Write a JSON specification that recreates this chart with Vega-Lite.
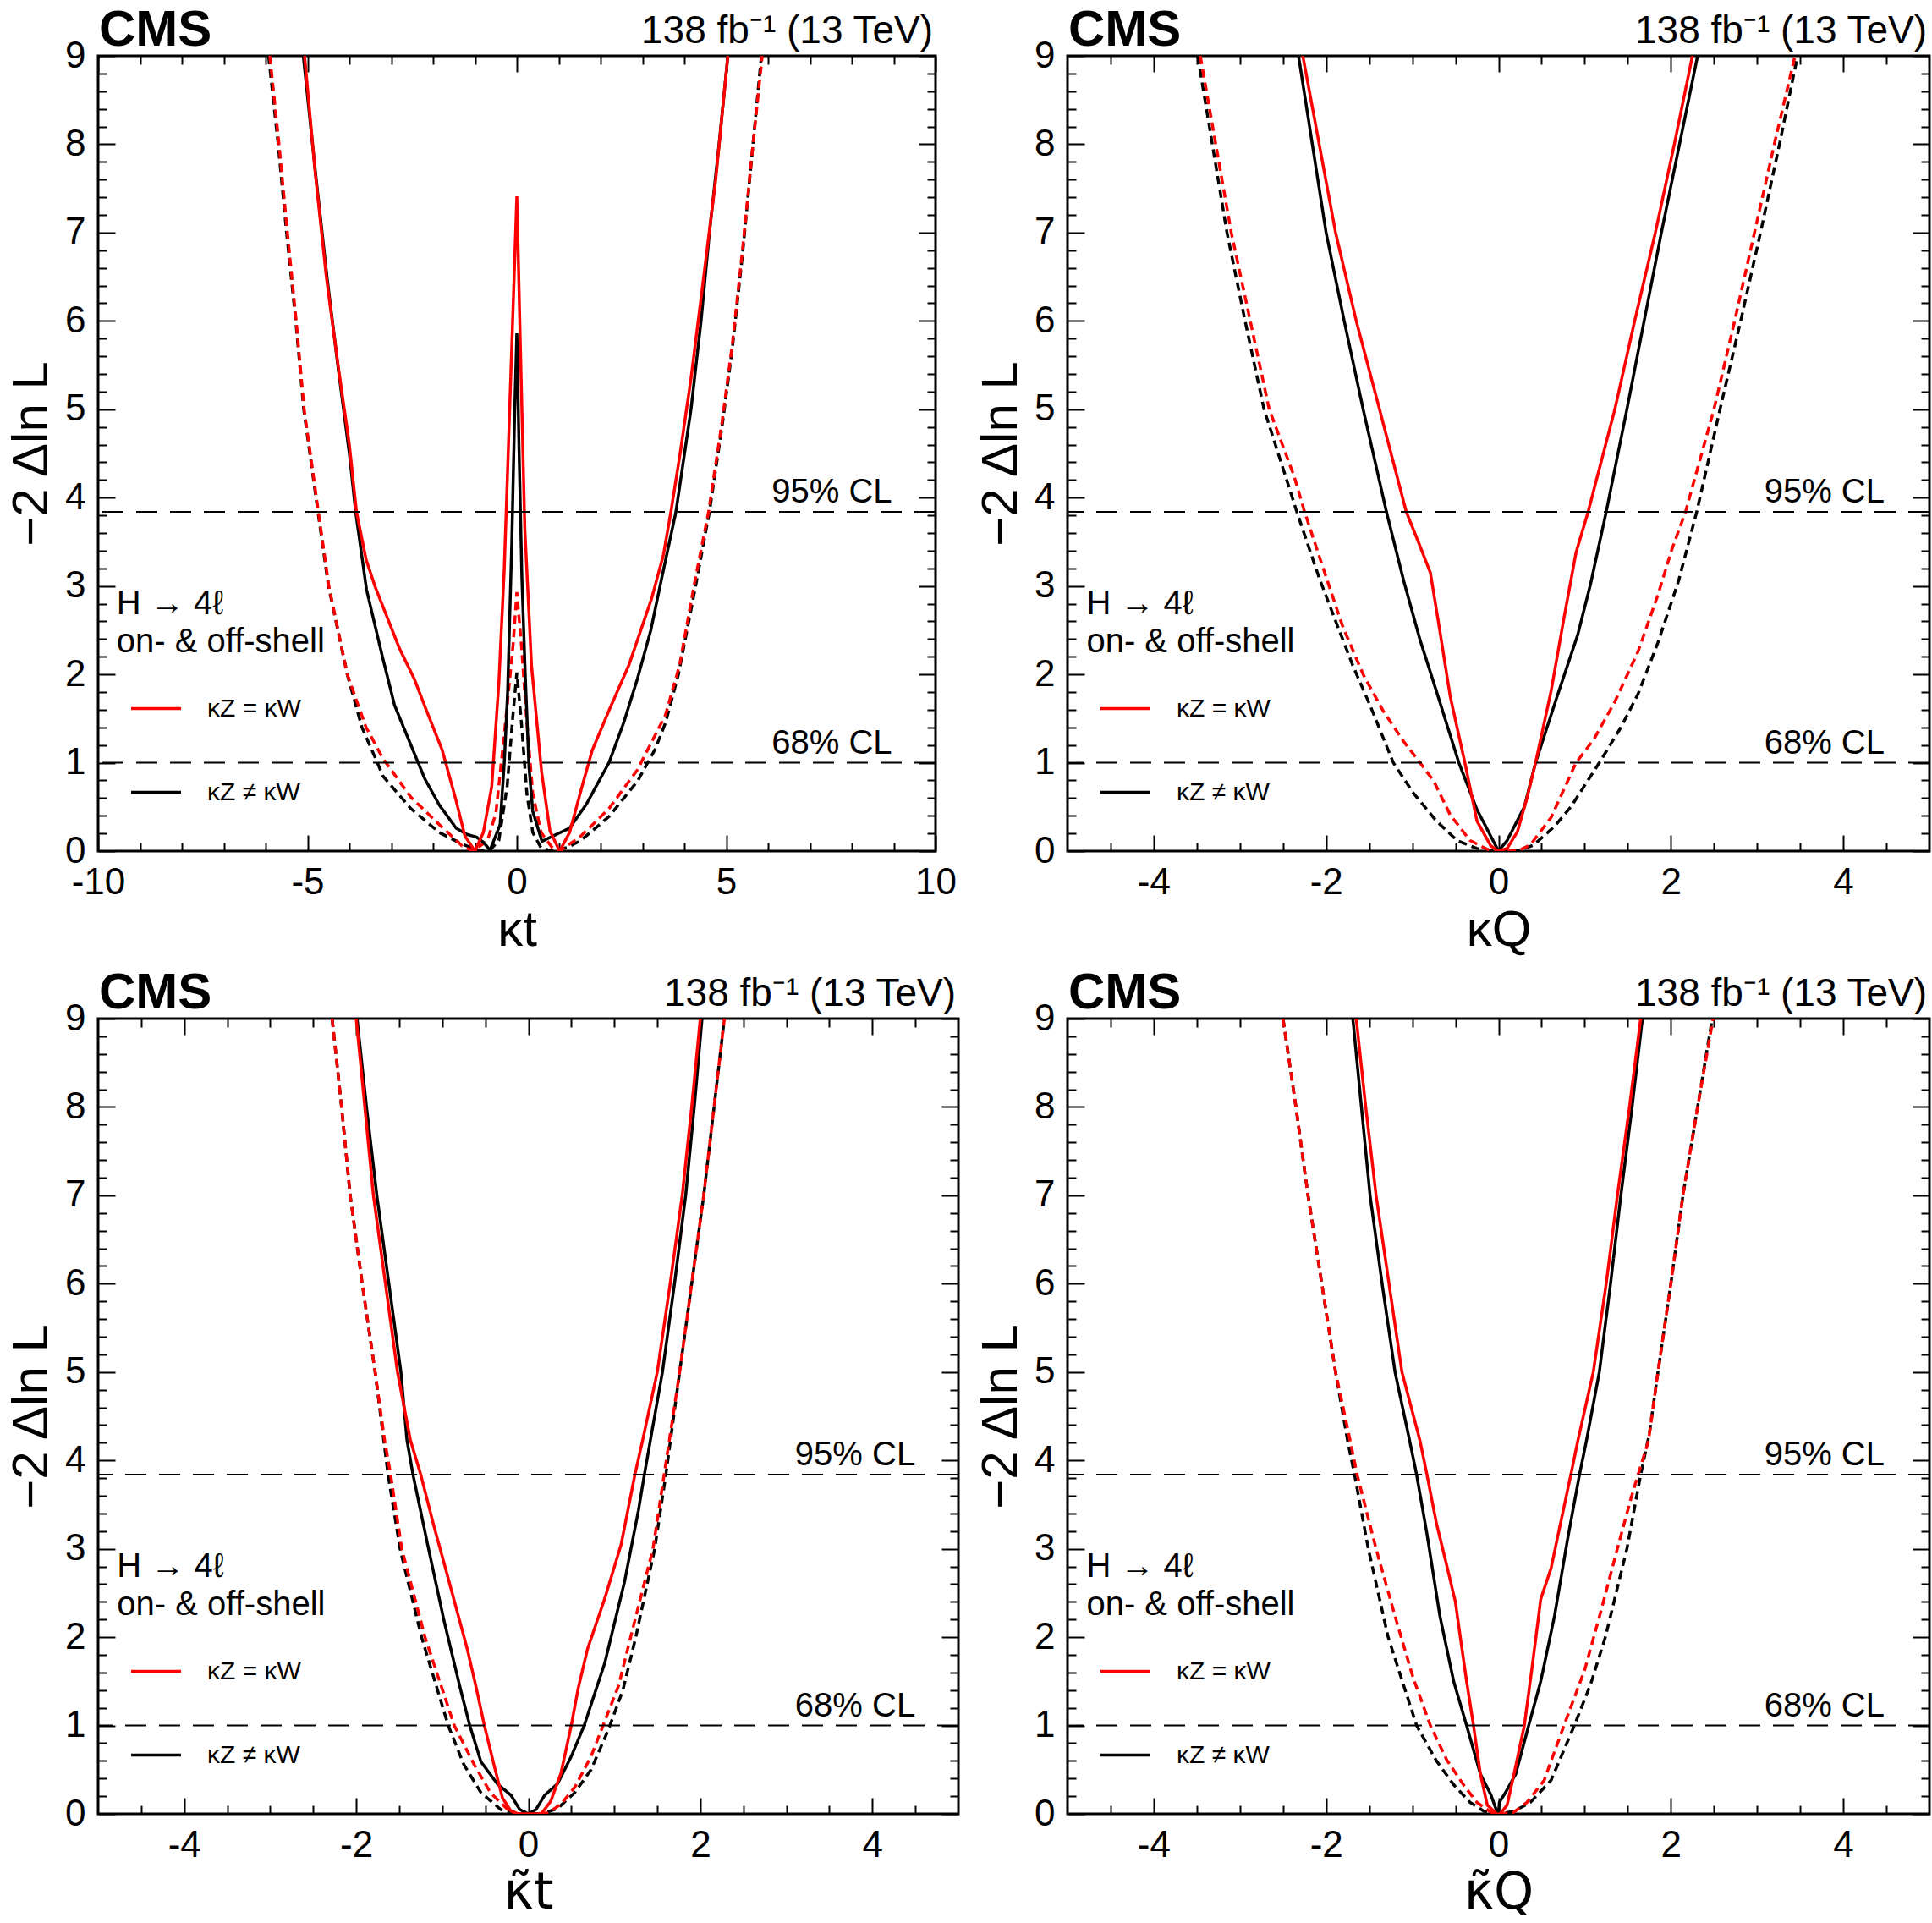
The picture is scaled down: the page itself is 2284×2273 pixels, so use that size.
{
  "$schema": "https://vega.github.io/schema/vega-lite/v6.json",
  "background": "white",
  "padding": {"left": 6, "top": 4, "right": 0, "bottom": 0},
  "config": {
    "font": "Liberation Sans",
    "view": {"stroke": "#000000", "strokeWidth": 3},
    "axis": {
      "grid": false, "domain": false, "tickColor": "#000000", "tickWidth": 2,
      "labelFont": "Liberation Sans", "labelFontSize": 44, "labelColor": "#000000",
      "labelFlush": false, "labelOverlap": false,
      "titleFont": "Liberation Sans", "titleFontSize": 60, "titleFontWeight": "normal", "titleColor": "#000000"
    },
    "axisLeft": {"titlePadding": 8},
    "axisBottom": {"titlePadding": 5},
    "legend": {
      "symbolType": "stroke", "symbolSize": 3481, "symbolStrokeWidth": 3.5,
      "labelFont": "Liberation Sans", "labelFontSize": 30, "labelColor": "#000000",
      "labelOffset": 29, "rowPadding": 52, "padding": 0
    },
    "text": {"font": "Liberation Sans", "color": "#000000"}
  },
  "datasets": {
    "kt": [
      {"model": "κZ ≠ κW", "curve": "expected", "x": -5.93, "y": 9}, {"model": "κZ ≠ κW", "curve": "expected", "x": -5.7, "y": 8}, {"model": "κZ ≠ κW", "curve": "expected", "x": -5.5, "y": 7}, {"model": "κZ ≠ κW", "curve": "expected", "x": -5.28, "y": 6}, {"model": "κZ ≠ κW", "curve": "expected", "x": -5.09, "y": 5}, {"model": "κZ ≠ κW", "curve": "expected", "x": -4.75, "y": 3.84}, {"model": "κZ ≠ κW", "curve": "expected", "x": -4.5, "y": 3.0}, {"model": "κZ ≠ κW", "curve": "expected", "x": -4.05, "y": 2.0}, {"model": "κZ ≠ κW", "curve": "expected", "x": -3.7, "y": 1.4}, {"model": "κZ ≠ κW", "curve": "expected", "x": -3.33, "y": 1.0}, {"model": "κZ ≠ κW", "curve": "expected", "x": -3.2, "y": 0.85}, {"model": "κZ ≠ κW", "curve": "expected", "x": -2.53, "y": 0.48}, {"model": "κZ ≠ κW", "curve": "expected", "x": -1.85, "y": 0.21}, {"model": "κZ ≠ κW", "curve": "expected", "x": -1.31, "y": 0.08}, {"model": "κZ ≠ κW", "curve": "expected", "x": -0.9, "y": 0}, {"model": "κZ ≠ κW", "curve": "expected", "x": -0.64, "y": 0.01}, {"model": "κZ ≠ κW", "curve": "expected", "x": -0.43, "y": 0.12}, {"model": "κZ ≠ κW", "curve": "expected", "x": -0.23, "y": 0.74}, {"model": "κZ ≠ κW", "curve": "expected", "x": -0.1, "y": 1.5}, {"model": "κZ ≠ κW", "curve": "expected", "x": 0, "y": 2.02}, {"model": "κZ ≠ κW", "curve": "expected", "x": 0.11, "y": 1.45}, {"model": "κZ ≠ κW", "curve": "expected", "x": 0.24, "y": 0.65}, {"model": "κZ ≠ κW", "curve": "expected", "x": 0.38, "y": 0.21}, {"model": "κZ ≠ κW", "curve": "expected", "x": 0.58, "y": 0.035}, {"model": "κZ ≠ κW", "curve": "expected", "x": 0.85, "y": 0}, {"model": "κZ ≠ κW", "curve": "expected", "x": 1.2, "y": 0.04}, {"model": "κZ ≠ κW", "curve": "expected", "x": 1.53, "y": 0.12}, {"model": "κZ ≠ κW", "curve": "expected", "x": 2.2, "y": 0.39}, {"model": "κZ ≠ κW", "curve": "expected", "x": 2.88, "y": 0.79}, {"model": "κZ ≠ κW", "curve": "expected", "x": 3.3, "y": 1.15}, {"model": "κZ ≠ κW", "curve": "expected", "x": 3.55, "y": 1.45}, {"model": "κZ ≠ κW", "curve": "expected", "x": 3.86, "y": 2.0}, {"model": "κZ ≠ κW", "curve": "expected", "x": 4.27, "y": 3.0}, {"model": "κZ ≠ κW", "curve": "expected", "x": 4.6, "y": 3.84}, {"model": "κZ ≠ κW", "curve": "expected", "x": 4.9, "y": 4.8}, {"model": "κZ ≠ κW", "curve": "expected", "x": 5.15, "y": 5.7}, {"model": "κZ ≠ κW", "curve": "expected", "x": 5.4, "y": 6.8}, {"model": "κZ ≠ κW", "curve": "expected", "x": 5.62, "y": 7.9}, {"model": "κZ ≠ κW", "curve": "expected", "x": 5.84, "y": 9},
      {"model": "κZ = κW", "curve": "expected", "x": -5.9, "y": 9}, {"model": "κZ = κW", "curve": "expected", "x": -5.68, "y": 8}, {"model": "κZ = κW", "curve": "expected", "x": -5.48, "y": 7}, {"model": "κZ = κW", "curve": "expected", "x": -5.27, "y": 6}, {"model": "κZ = κW", "curve": "expected", "x": -5.08, "y": 5}, {"model": "κZ = κW", "curve": "expected", "x": -4.74, "y": 3.84}, {"model": "κZ = κW", "curve": "expected", "x": -4.49, "y": 3.0}, {"model": "κZ = κW", "curve": "expected", "x": -4.05, "y": 2.0}, {"model": "κZ = κW", "curve": "expected", "x": -3.6, "y": 1.4}, {"model": "κZ = κW", "curve": "expected", "x": -3.2, "y": 1.05}, {"model": "κZ = κW", "curve": "expected", "x": -2.53, "y": 0.61}, {"model": "κZ = κW", "curve": "expected", "x": -1.85, "y": 0.3}, {"model": "κZ = κW", "curve": "expected", "x": -1.31, "y": 0.06}, {"model": "κZ = κW", "curve": "expected", "x": -1.04, "y": 0}, {"model": "κZ = κW", "curve": "expected", "x": -0.7, "y": 0.12}, {"model": "κZ = κW", "curve": "expected", "x": -0.5, "y": 0.43}, {"model": "κZ = κW", "curve": "expected", "x": -0.3, "y": 1.32}, {"model": "κZ = κW", "curve": "expected", "x": -0.09, "y": 2.33}, {"model": "κZ = κW", "curve": "expected", "x": 0, "y": 2.93}, {"model": "κZ = κW", "curve": "expected", "x": 0.11, "y": 2.33}, {"model": "κZ = κW", "curve": "expected", "x": 0.24, "y": 1.45}, {"model": "κZ = κW", "curve": "expected", "x": 0.38, "y": 0.65}, {"model": "κZ = κW", "curve": "expected", "x": 0.58, "y": 0.21}, {"model": "κZ = κW", "curve": "expected", "x": 0.85, "y": 0.035}, {"model": "κZ = κW", "curve": "expected", "x": 1.02, "y": 0}, {"model": "κZ = κW", "curve": "expected", "x": 1.53, "y": 0.17}, {"model": "κZ = κW", "curve": "expected", "x": 2.2, "y": 0.48}, {"model": "κZ = κW", "curve": "expected", "x": 2.88, "y": 0.92}, {"model": "κZ = κW", "curve": "expected", "x": 3.55, "y": 1.54}, {"model": "κZ = κW", "curve": "expected", "x": 3.89, "y": 2.11}, {"model": "κZ = κW", "curve": "expected", "x": 4.25, "y": 3.05}, {"model": "κZ = κW", "curve": "expected", "x": 4.58, "y": 3.84}, {"model": "κZ = κW", "curve": "expected", "x": 4.9, "y": 4.85}, {"model": "κZ = κW", "curve": "expected", "x": 5.15, "y": 5.75}, {"model": "κZ = κW", "curve": "expected", "x": 5.4, "y": 6.85}, {"model": "κZ = κW", "curve": "expected", "x": 5.63, "y": 7.95}, {"model": "κZ = κW", "curve": "expected", "x": 5.86, "y": 9},
      {"model": "κZ ≠ κW", "curve": "observed", "x": -5.1, "y": 9}, {"model": "κZ ≠ κW", "curve": "observed", "x": -4.8, "y": 7.64}, {"model": "κZ ≠ κW", "curve": "observed", "x": -4.53, "y": 6.48}, {"model": "κZ ≠ κW", "curve": "observed", "x": -4.26, "y": 5.44}, {"model": "κZ ≠ κW", "curve": "observed", "x": -3.99, "y": 4.46}, {"model": "κZ ≠ κW", "curve": "observed", "x": -3.85, "y": 3.84}, {"model": "κZ ≠ κW", "curve": "observed", "x": -3.59, "y": 2.96}, {"model": "κZ ≠ κW", "curve": "observed", "x": -3.22, "y": 2.22}, {"model": "κZ ≠ κW", "curve": "observed", "x": -2.92, "y": 1.65}, {"model": "κZ ≠ κW", "curve": "observed", "x": -2.53, "y": 1.2}, {"model": "κZ ≠ κW", "curve": "observed", "x": -2.2, "y": 0.82}, {"model": "κZ ≠ κW", "curve": "observed", "x": -1.85, "y": 0.52}, {"model": "κZ ≠ κW", "curve": "observed", "x": -1.45, "y": 0.26}, {"model": "κZ ≠ κW", "curve": "observed", "x": -1.2, "y": 0.19}, {"model": "κZ ≠ κW", "curve": "observed", "x": -0.97, "y": 0.16}, {"model": "κZ ≠ κW", "curve": "observed", "x": -0.8, "y": 0.1}, {"model": "κZ ≠ κW", "curve": "observed", "x": -0.64, "y": 0.01}, {"model": "κZ ≠ κW", "curve": "observed", "x": -0.4, "y": 0.3}, {"model": "κZ ≠ κW", "curve": "observed", "x": -0.3, "y": 1.0}, {"model": "κZ ≠ κW", "curve": "observed", "x": -0.22, "y": 1.8}, {"model": "κZ ≠ κW", "curve": "observed", "x": -0.12, "y": 3.5}, {"model": "κZ ≠ κW", "curve": "observed", "x": -0.05, "y": 5.0}, {"model": "κZ ≠ κW", "curve": "observed", "x": 0, "y": 5.86}, {"model": "κZ ≠ κW", "curve": "observed", "x": 0.05, "y": 4.6}, {"model": "κZ ≠ κW", "curve": "observed", "x": 0.12, "y": 3.1}, {"model": "κZ ≠ κW", "curve": "observed", "x": 0.2, "y": 2.0}, {"model": "κZ ≠ κW", "curve": "observed", "x": 0.29, "y": 0.95}, {"model": "κZ ≠ κW", "curve": "observed", "x": 0.38, "y": 0.45}, {"model": "κZ ≠ κW", "curve": "observed", "x": 0.6, "y": 0.11}, {"model": "κZ ≠ κW", "curve": "observed", "x": 0.86, "y": 0.17}, {"model": "κZ ≠ κW", "curve": "observed", "x": 1.26, "y": 0.26}, {"model": "κZ ≠ κW", "curve": "observed", "x": 1.66, "y": 0.53}, {"model": "κZ ≠ κW", "curve": "observed", "x": 2.2, "y": 1.0}, {"model": "κZ ≠ κW", "curve": "observed", "x": 2.55, "y": 1.45}, {"model": "κZ ≠ κW", "curve": "observed", "x": 2.88, "y": 1.95}, {"model": "κZ ≠ κW", "curve": "observed", "x": 3.2, "y": 2.5}, {"model": "κZ ≠ κW", "curve": "observed", "x": 3.42, "y": 3.0}, {"model": "κZ ≠ κW", "curve": "observed", "x": 3.8, "y": 3.84}, {"model": "κZ ≠ κW", "curve": "observed", "x": 4.16, "y": 5.0}, {"model": "κZ ≠ κW", "curve": "observed", "x": 4.4, "y": 6.0}, {"model": "κZ ≠ κW", "curve": "observed", "x": 4.6, "y": 7.0}, {"model": "κZ ≠ κW", "curve": "observed", "x": 4.83, "y": 8.0}, {"model": "κZ ≠ κW", "curve": "observed", "x": 5.04, "y": 9},
      {"model": "κZ = κW", "curve": "observed", "x": -5.07, "y": 9}, {"model": "κZ = κW", "curve": "observed", "x": -4.82, "y": 7.7}, {"model": "κZ = κW", "curve": "observed", "x": -4.55, "y": 6.5}, {"model": "κZ = κW", "curve": "observed", "x": -4.27, "y": 5.5}, {"model": "κZ = κW", "curve": "observed", "x": -4.0, "y": 4.6}, {"model": "κZ = κW", "curve": "observed", "x": -3.83, "y": 3.84}, {"model": "κZ = κW", "curve": "observed", "x": -3.6, "y": 3.3}, {"model": "κZ = κW", "curve": "observed", "x": -3.39, "y": 3.0}, {"model": "κZ = κW", "curve": "observed", "x": -3.2, "y": 2.77}, {"model": "κZ = κW", "curve": "observed", "x": -2.8, "y": 2.29}, {"model": "κZ = κW", "curve": "observed", "x": -2.45, "y": 1.95}, {"model": "κZ = κW", "curve": "observed", "x": -2.19, "y": 1.63}, {"model": "κZ = κW", "curve": "observed", "x": -1.78, "y": 1.14}, {"model": "κZ = κW", "curve": "observed", "x": -1.45, "y": 0.57}, {"model": "κZ = κW", "curve": "observed", "x": -1.24, "y": 0.17}, {"model": "κZ = κW", "curve": "observed", "x": -1.0, "y": 0}, {"model": "κZ = κW", "curve": "observed", "x": -0.8, "y": 0.21}, {"model": "κZ = κW", "curve": "observed", "x": -0.6, "y": 0.73}, {"model": "κZ = κW", "curve": "observed", "x": -0.43, "y": 1.9}, {"model": "κZ = κW", "curve": "observed", "x": -0.3, "y": 3.2}, {"model": "κZ = κW", "curve": "observed", "x": -0.15, "y": 5.3}, {"model": "κZ = κW", "curve": "observed", "x": 0, "y": 7.41}, {"model": "κZ = κW", "curve": "observed", "x": 0.1, "y": 5.4}, {"model": "κZ = κW", "curve": "observed", "x": 0.19, "y": 3.65}, {"model": "κZ = κW", "curve": "observed", "x": 0.35, "y": 2.1}, {"model": "κZ = κW", "curve": "observed", "x": 0.59, "y": 0.9}, {"model": "κZ = κW", "curve": "observed", "x": 0.79, "y": 0.23}, {"model": "κZ = κW", "curve": "observed", "x": 1.02, "y": 0}, {"model": "κZ = κW", "curve": "observed", "x": 1.26, "y": 0.21}, {"model": "κZ = κW", "curve": "observed", "x": 1.55, "y": 0.72}, {"model": "κZ = κW", "curve": "observed", "x": 1.8, "y": 1.14}, {"model": "κZ = κW", "curve": "observed", "x": 2.2, "y": 1.59}, {"model": "κZ = κW", "curve": "observed", "x": 2.68, "y": 2.11}, {"model": "κZ = κW", "curve": "observed", "x": 3.22, "y": 2.86}, {"model": "κZ = κW", "curve": "observed", "x": 3.5, "y": 3.35}, {"model": "κZ = κW", "curve": "observed", "x": 3.68, "y": 3.84}, {"model": "κZ = κW", "curve": "observed", "x": 3.9, "y": 4.5}, {"model": "κZ = κW", "curve": "observed", "x": 4.16, "y": 5.35}, {"model": "κZ = κW", "curve": "observed", "x": 4.45, "y": 6.45}, {"model": "κZ = κW", "curve": "observed", "x": 4.75, "y": 7.6}, {"model": "κZ = κW", "curve": "observed", "x": 5.04, "y": 9}
    ],
    "kq": [
      {"model": "κZ ≠ κW", "curve": "expected", "x": -3.49, "y": 9}, {"model": "κZ ≠ κW", "curve": "expected", "x": -3.32, "y": 8}, {"model": "κZ ≠ κW", "curve": "expected", "x": -3.15, "y": 7}, {"model": "κZ ≠ κW", "curve": "expected", "x": -2.94, "y": 6}, {"model": "κZ ≠ κW", "curve": "expected", "x": -2.72, "y": 5}, {"model": "κZ ≠ κW", "curve": "expected", "x": -2.47, "y": 4.24}, {"model": "κZ ≠ κW", "curve": "expected", "x": -2.34, "y": 3.84}, {"model": "κZ ≠ κW", "curve": "expected", "x": -2.08, "y": 3.09}, {"model": "κZ ≠ κW", "curve": "expected", "x": -1.88, "y": 2.58}, {"model": "κZ ≠ κW", "curve": "expected", "x": -1.69, "y": 2.1}, {"model": "κZ ≠ κW", "curve": "expected", "x": -1.49, "y": 1.65}, {"model": "κZ ≠ κW", "curve": "expected", "x": -1.22, "y": 1.0}, {"model": "κZ ≠ κW", "curve": "expected", "x": -0.99, "y": 0.66}, {"model": "κZ ≠ κW", "curve": "expected", "x": -0.72, "y": 0.34}, {"model": "κZ ≠ κW", "curve": "expected", "x": -0.48, "y": 0.12}, {"model": "κZ ≠ κW", "curve": "expected", "x": -0.25, "y": 0.03}, {"model": "κZ ≠ κW", "curve": "expected", "x": 0, "y": 0}, {"model": "κZ ≠ κW", "curve": "expected", "x": 0.26, "y": 0.01}, {"model": "κZ ≠ κW", "curve": "expected", "x": 0.41, "y": 0.07}, {"model": "κZ ≠ κW", "curve": "expected", "x": 0.65, "y": 0.28}, {"model": "κZ ≠ κW", "curve": "expected", "x": 0.84, "y": 0.5}, {"model": "κZ ≠ κW", "curve": "expected", "x": 1.17, "y": 1.0}, {"model": "κZ ≠ κW", "curve": "expected", "x": 1.42, "y": 1.4}, {"model": "κZ ≠ κW", "curve": "expected", "x": 1.62, "y": 1.78}, {"model": "κZ ≠ κW", "curve": "expected", "x": 1.85, "y": 2.36}, {"model": "κZ ≠ κW", "curve": "expected", "x": 2.09, "y": 3.06}, {"model": "κZ ≠ κW", "curve": "expected", "x": 2.3, "y": 3.84}, {"model": "κZ ≠ κW", "curve": "expected", "x": 2.57, "y": 5}, {"model": "κZ ≠ κW", "curve": "expected", "x": 2.81, "y": 6}, {"model": "κZ ≠ κW", "curve": "expected", "x": 3.04, "y": 7}, {"model": "κZ ≠ κW", "curve": "expected", "x": 3.26, "y": 8}, {"model": "κZ ≠ κW", "curve": "expected", "x": 3.47, "y": 9},
      {"model": "κZ = κW", "curve": "expected", "x": -3.46, "y": 9}, {"model": "κZ = κW", "curve": "expected", "x": -3.28, "y": 8}, {"model": "κZ = κW", "curve": "expected", "x": -3.1, "y": 7}, {"model": "κZ = κW", "curve": "expected", "x": -2.88, "y": 6}, {"model": "κZ = κW", "curve": "expected", "x": -2.66, "y": 5}, {"model": "κZ = κW", "curve": "expected", "x": -2.37, "y": 4.24}, {"model": "κZ = κW", "curve": "expected", "x": -2.25, "y": 3.84}, {"model": "κZ = κW", "curve": "expected", "x": -2.04, "y": 3.22}, {"model": "κZ = κW", "curve": "expected", "x": -1.81, "y": 2.55}, {"model": "κZ = κW", "curve": "expected", "x": -1.57, "y": 2.0}, {"model": "κZ = κW", "curve": "expected", "x": -1.34, "y": 1.59}, {"model": "κZ = κW", "curve": "expected", "x": -1.1, "y": 1.24}, {"model": "κZ = κW", "curve": "expected", "x": -0.91, "y": 1.0}, {"model": "κZ = κW", "curve": "expected", "x": -0.75, "y": 0.79}, {"model": "κZ = κW", "curve": "expected", "x": -0.56, "y": 0.41}, {"model": "κZ = κW", "curve": "expected", "x": -0.33, "y": 0.12}, {"model": "κZ = κW", "curve": "expected", "x": -0.09, "y": 0}, {"model": "κZ = κW", "curve": "expected", "x": 0.22, "y": 0}, {"model": "κZ = κW", "curve": "expected", "x": 0.37, "y": 0.07}, {"model": "κZ = κW", "curve": "expected", "x": 0.61, "y": 0.38}, {"model": "κZ = κW", "curve": "expected", "x": 0.9, "y": 1.0}, {"model": "κZ = κW", "curve": "expected", "x": 1.11, "y": 1.27}, {"model": "κZ = κW", "curve": "expected", "x": 1.35, "y": 1.69}, {"model": "κZ = κW", "curve": "expected", "x": 1.62, "y": 2.26}, {"model": "κZ = κW", "curve": "expected", "x": 1.85, "y": 2.9}, {"model": "κZ = κW", "curve": "expected", "x": 2.01, "y": 3.41}, {"model": "κZ = κW", "curve": "expected", "x": 2.17, "y": 3.84}, {"model": "κZ = κW", "curve": "expected", "x": 2.5, "y": 5}, {"model": "κZ = κW", "curve": "expected", "x": 2.74, "y": 6}, {"model": "κZ = κW", "curve": "expected", "x": 2.97, "y": 7}, {"model": "κZ = κW", "curve": "expected", "x": 3.2, "y": 8}, {"model": "κZ = κW", "curve": "expected", "x": 3.44, "y": 9},
      {"model": "κZ ≠ κW", "curve": "observed", "x": -2.32, "y": 9}, {"model": "κZ ≠ κW", "curve": "observed", "x": -2.16, "y": 8}, {"model": "κZ ≠ κW", "curve": "observed", "x": -2.0, "y": 7}, {"model": "κZ ≠ κW", "curve": "observed", "x": -1.79, "y": 6}, {"model": "κZ ≠ κW", "curve": "observed", "x": -1.57, "y": 5}, {"model": "κZ ≠ κW", "curve": "observed", "x": -1.3, "y": 3.84}, {"model": "κZ ≠ κW", "curve": "observed", "x": -1.1, "y": 3.06}, {"model": "κZ ≠ κW", "curve": "observed", "x": -0.91, "y": 2.39}, {"model": "κZ ≠ κW", "curve": "observed", "x": -0.72, "y": 1.81}, {"model": "κZ ≠ κW", "curve": "observed", "x": -0.46, "y": 1.0}, {"model": "κZ ≠ κW", "curve": "observed", "x": -0.25, "y": 0.47}, {"model": "κZ ≠ κW", "curve": "observed", "x": -0.09, "y": 0.17}, {"model": "κZ ≠ κW", "curve": "observed", "x": 0, "y": 0}, {"model": "κZ ≠ κW", "curve": "observed", "x": 0.1, "y": 0.12}, {"model": "κZ ≠ κW", "curve": "observed", "x": 0.3, "y": 0.5}, {"model": "κZ ≠ κW", "curve": "observed", "x": 0.43, "y": 1.0}, {"model": "κZ ≠ κW", "curve": "observed", "x": 0.68, "y": 1.75}, {"model": "κZ ≠ κW", "curve": "observed", "x": 0.92, "y": 2.45}, {"model": "κZ ≠ κW", "curve": "observed", "x": 1.07, "y": 3.03}, {"model": "κZ ≠ κW", "curve": "observed", "x": 1.25, "y": 3.84}, {"model": "κZ ≠ κW", "curve": "observed", "x": 1.49, "y": 5}, {"model": "κZ ≠ κW", "curve": "observed", "x": 1.69, "y": 6}, {"model": "κZ ≠ κW", "curve": "observed", "x": 1.89, "y": 7}, {"model": "κZ ≠ κW", "curve": "observed", "x": 2.1, "y": 8}, {"model": "κZ ≠ κW", "curve": "observed", "x": 2.31, "y": 9},
      {"model": "κZ = κW", "curve": "observed", "x": -2.27, "y": 9}, {"model": "κZ = κW", "curve": "observed", "x": -2.08, "y": 8}, {"model": "κZ = κW", "curve": "observed", "x": -1.89, "y": 7}, {"model": "κZ = κW", "curve": "observed", "x": -1.65, "y": 6}, {"model": "κZ = κW", "curve": "observed", "x": -1.38, "y": 5}, {"model": "κZ = κW", "curve": "observed", "x": -1.07, "y": 3.84}, {"model": "κZ = κW", "curve": "observed", "x": -0.93, "y": 3.5}, {"model": "κZ = κW", "curve": "observed", "x": -0.79, "y": 3.15}, {"model": "κZ = κW", "curve": "observed", "x": -0.68, "y": 2.49}, {"model": "κZ = κW", "curve": "observed", "x": -0.56, "y": 1.75}, {"model": "κZ = κW", "curve": "observed", "x": -0.39, "y": 1.0}, {"model": "κZ = κW", "curve": "observed", "x": -0.25, "y": 0.34}, {"model": "κZ = κW", "curve": "observed", "x": -0.09, "y": 0.06}, {"model": "κZ = κW", "curve": "observed", "x": 0, "y": 0}, {"model": "κZ = κW", "curve": "observed", "x": 0.1, "y": 0.03}, {"model": "κZ = κW", "curve": "observed", "x": 0.22, "y": 0.22}, {"model": "κZ = κW", "curve": "observed", "x": 0.33, "y": 0.6}, {"model": "κZ = κW", "curve": "observed", "x": 0.43, "y": 1.0}, {"model": "κZ = κW", "curve": "observed", "x": 0.61, "y": 1.81}, {"model": "κZ = κW", "curve": "observed", "x": 0.76, "y": 2.64}, {"model": "κZ = κW", "curve": "observed", "x": 0.9, "y": 3.38}, {"model": "κZ = κW", "curve": "observed", "x": 1.04, "y": 3.84}, {"model": "κZ = κW", "curve": "observed", "x": 1.35, "y": 5}, {"model": "κZ = κW", "curve": "observed", "x": 1.58, "y": 6}, {"model": "κZ = κW", "curve": "observed", "x": 1.82, "y": 7}, {"model": "κZ = κW", "curve": "observed", "x": 2.04, "y": 8}, {"model": "κZ = κW", "curve": "observed", "x": 2.25, "y": 9}
    ],
    "ktt": [
      {"model": "κZ ≠ κW", "curve": "expected", "x": -2.28, "y": 9}, {"model": "κZ ≠ κW", "curve": "expected", "x": -2.17, "y": 8}, {"model": "κZ ≠ κW", "curve": "expected", "x": -2.07, "y": 7}, {"model": "κZ ≠ κW", "curve": "expected", "x": -1.93, "y": 6}, {"model": "κZ ≠ κW", "curve": "expected", "x": -1.78, "y": 5}, {"model": "κZ ≠ κW", "curve": "expected", "x": -1.68, "y": 4.23}, {"model": "κZ ≠ κW", "curve": "expected", "x": -1.63, "y": 3.84}, {"model": "κZ ≠ κW", "curve": "expected", "x": -1.49, "y": 3.0}, {"model": "κZ ≠ κW", "curve": "expected", "x": -1.24, "y": 2.0}, {"model": "κZ ≠ κW", "curve": "expected", "x": -0.93, "y": 1.0}, {"model": "κZ ≠ κW", "curve": "expected", "x": -0.75, "y": 0.56}, {"model": "κZ ≠ κW", "curve": "expected", "x": -0.55, "y": 0.24}, {"model": "κZ ≠ κW", "curve": "expected", "x": -0.32, "y": 0.05}, {"model": "κZ ≠ κW", "curve": "expected", "x": -0.09, "y": 0}, {"model": "κZ ≠ κW", "curve": "expected", "x": 0.15, "y": 0}, {"model": "κZ ≠ κW", "curve": "expected", "x": 0.34, "y": 0.06}, {"model": "κZ ≠ κW", "curve": "expected", "x": 0.54, "y": 0.24}, {"model": "κZ ≠ κW", "curve": "expected", "x": 0.73, "y": 0.5}, {"model": "κZ ≠ κW", "curve": "expected", "x": 0.93, "y": 0.95}, {"model": "κZ ≠ κW", "curve": "expected", "x": 1.1, "y": 1.4}, {"model": "κZ ≠ κW", "curve": "expected", "x": 1.25, "y": 2.0}, {"model": "κZ ≠ κW", "curve": "expected", "x": 1.47, "y": 3.0}, {"model": "κZ ≠ κW", "curve": "expected", "x": 1.6, "y": 3.84}, {"model": "κZ ≠ κW", "curve": "expected", "x": 1.76, "y": 5}, {"model": "κZ ≠ κW", "curve": "expected", "x": 1.9, "y": 6}, {"model": "κZ ≠ κW", "curve": "expected", "x": 2.04, "y": 7}, {"model": "κZ ≠ κW", "curve": "expected", "x": 2.16, "y": 8}, {"model": "κZ ≠ κW", "curve": "expected", "x": 2.28, "y": 9},
      {"model": "κZ = κW", "curve": "expected", "x": -2.28, "y": 9}, {"model": "κZ = κW", "curve": "expected", "x": -2.17, "y": 8}, {"model": "κZ = κW", "curve": "expected", "x": -2.07, "y": 7}, {"model": "κZ = κW", "curve": "expected", "x": -1.93, "y": 6}, {"model": "κZ = κW", "curve": "expected", "x": -1.78, "y": 5}, {"model": "κZ = κW", "curve": "expected", "x": -1.67, "y": 4.23}, {"model": "κZ = κW", "curve": "expected", "x": -1.6, "y": 3.84}, {"model": "κZ = κW", "curve": "expected", "x": -1.47, "y": 3.0}, {"model": "κZ = κW", "curve": "expected", "x": -1.2, "y": 2.0}, {"model": "κZ = κW", "curve": "expected", "x": -0.86, "y": 1.0}, {"model": "κZ = κW", "curve": "expected", "x": -0.63, "y": 0.56}, {"model": "κZ = κW", "curve": "expected", "x": -0.44, "y": 0.24}, {"model": "κZ = κW", "curve": "expected", "x": -0.24, "y": 0.05}, {"model": "κZ = κW", "curve": "expected", "x": -0.12, "y": 0}, {"model": "κZ = κW", "curve": "expected", "x": 0.1, "y": 0}, {"model": "κZ = κW", "curve": "expected", "x": 0.23, "y": 0.01}, {"model": "κZ = κW", "curve": "expected", "x": 0.38, "y": 0.11}, {"model": "κZ = κW", "curve": "expected", "x": 0.54, "y": 0.3}, {"model": "κZ = κW", "curve": "expected", "x": 0.73, "y": 0.65}, {"model": "κZ = κW", "curve": "expected", "x": 0.87, "y": 1.0}, {"model": "κZ = κW", "curve": "expected", "x": 1.05, "y": 1.45}, {"model": "κZ = κW", "curve": "expected", "x": 1.19, "y": 2.0}, {"model": "κZ = κW", "curve": "expected", "x": 1.45, "y": 3.0}, {"model": "κZ = κW", "curve": "expected", "x": 1.58, "y": 3.84}, {"model": "κZ = κW", "curve": "expected", "x": 1.76, "y": 5}, {"model": "κZ = κW", "curve": "expected", "x": 1.9, "y": 6}, {"model": "κZ = κW", "curve": "expected", "x": 2.04, "y": 7}, {"model": "κZ = κW", "curve": "expected", "x": 2.16, "y": 8}, {"model": "κZ = κW", "curve": "expected", "x": 2.28, "y": 9},
      {"model": "κZ ≠ κW", "curve": "observed", "x": -1.99, "y": 9}, {"model": "κZ ≠ κW", "curve": "observed", "x": -1.88, "y": 8}, {"model": "κZ ≠ κW", "curve": "observed", "x": -1.76, "y": 7}, {"model": "κZ ≠ κW", "curve": "observed", "x": -1.62, "y": 6}, {"model": "κZ ≠ κW", "curve": "observed", "x": -1.48, "y": 5}, {"model": "κZ ≠ κW", "curve": "observed", "x": -1.41, "y": 4.23}, {"model": "κZ ≠ κW", "curve": "observed", "x": -1.34, "y": 3.84}, {"model": "κZ ≠ κW", "curve": "observed", "x": -1.17, "y": 3.05}, {"model": "κZ ≠ κW", "curve": "observed", "x": -0.98, "y": 2.19}, {"model": "κZ ≠ κW", "curve": "observed", "x": -0.79, "y": 1.42}, {"model": "κZ ≠ κW", "curve": "observed", "x": -0.68, "y": 1.0}, {"model": "κZ ≠ κW", "curve": "observed", "x": -0.55, "y": 0.59}, {"model": "κZ ≠ κW", "curve": "observed", "x": -0.36, "y": 0.34}, {"model": "κZ ≠ κW", "curve": "observed", "x": -0.2, "y": 0.21}, {"model": "κZ ≠ κW", "curve": "observed", "x": -0.1, "y": 0.05}, {"model": "κZ ≠ κW", "curve": "observed", "x": 0, "y": 0}, {"model": "κZ ≠ κW", "curve": "observed", "x": 0.09, "y": 0.05}, {"model": "κZ ≠ κW", "curve": "observed", "x": 0.19, "y": 0.21}, {"model": "κZ ≠ κW", "curve": "observed", "x": 0.34, "y": 0.34}, {"model": "κZ ≠ κW", "curve": "observed", "x": 0.5, "y": 0.65}, {"model": "κZ ≠ κW", "curve": "observed", "x": 0.65, "y": 1.0}, {"model": "κZ ≠ κW", "curve": "observed", "x": 0.89, "y": 1.71}, {"model": "κZ ≠ κW", "curve": "observed", "x": 1.12, "y": 2.63}, {"model": "κZ ≠ κW", "curve": "observed", "x": 1.28, "y": 3.43}, {"model": "κZ ≠ κW", "curve": "observed", "x": 1.35, "y": 3.84}, {"model": "κZ ≠ κW", "curve": "observed", "x": 1.42, "y": 4.23}, {"model": "κZ ≠ κW", "curve": "observed", "x": 1.56, "y": 5}, {"model": "κZ ≠ κW", "curve": "observed", "x": 1.7, "y": 6}, {"model": "κZ ≠ κW", "curve": "observed", "x": 1.83, "y": 7}, {"model": "κZ ≠ κW", "curve": "observed", "x": 1.93, "y": 8}, {"model": "κZ ≠ κW", "curve": "observed", "x": 2.02, "y": 9},
      {"model": "κZ = κW", "curve": "observed", "x": -2.0, "y": 9}, {"model": "κZ = κW", "curve": "observed", "x": -1.9, "y": 8}, {"model": "κZ = κW", "curve": "observed", "x": -1.8, "y": 7}, {"model": "κZ = κW", "curve": "observed", "x": -1.66, "y": 6}, {"model": "κZ = κW", "curve": "observed", "x": -1.52, "y": 5}, {"model": "κZ = κW", "curve": "observed", "x": -1.37, "y": 4.23}, {"model": "κZ = κW", "curve": "observed", "x": -1.25, "y": 3.84}, {"model": "κZ = κW", "curve": "observed", "x": -1.1, "y": 3.27}, {"model": "κZ = κW", "curve": "observed", "x": -0.94, "y": 2.7}, {"model": "κZ = κW", "curve": "observed", "x": -0.71, "y": 1.87}, {"model": "κZ = κW", "curve": "observed", "x": -0.61, "y": 1.45}, {"model": "κZ = κW", "curve": "observed", "x": -0.51, "y": 1.0}, {"model": "κZ = κW", "curve": "observed", "x": -0.4, "y": 0.56}, {"model": "κZ = κW", "curve": "observed", "x": -0.3, "y": 0.18}, {"model": "κZ = κW", "curve": "observed", "x": -0.2, "y": 0.03}, {"model": "κZ = κW", "curve": "observed", "x": -0.12, "y": 0}, {"model": "κZ = κW", "curve": "observed", "x": 0.15, "y": 0}, {"model": "κZ = κW", "curve": "observed", "x": 0.26, "y": 0.14}, {"model": "κZ = κW", "curve": "observed", "x": 0.38, "y": 0.46}, {"model": "κZ = κW", "curve": "observed", "x": 0.5, "y": 1.0}, {"model": "κZ = κW", "curve": "observed", "x": 0.58, "y": 1.42}, {"model": "κZ = κW", "curve": "observed", "x": 0.69, "y": 1.87}, {"model": "κZ = κW", "curve": "observed", "x": 0.89, "y": 2.44}, {"model": "κZ = κW", "curve": "observed", "x": 1.08, "y": 3.05}, {"model": "κZ = κW", "curve": "observed", "x": 1.24, "y": 3.84}, {"model": "κZ = κW", "curve": "observed", "x": 1.33, "y": 4.23}, {"model": "κZ = κW", "curve": "observed", "x": 1.5, "y": 5}, {"model": "κZ = κW", "curve": "observed", "x": 1.65, "y": 6}, {"model": "κZ = κW", "curve": "observed", "x": 1.79, "y": 7}, {"model": "κZ = κW", "curve": "observed", "x": 1.9, "y": 8}, {"model": "κZ = κW", "curve": "observed", "x": 2.0, "y": 9}
    ],
    "kqt": [
      {"model": "κZ ≠ κW", "curve": "expected", "x": -2.5, "y": 9}, {"model": "κZ ≠ κW", "curve": "expected", "x": -2.35, "y": 8}, {"model": "κZ ≠ κW", "curve": "expected", "x": -2.21, "y": 7}, {"model": "κZ ≠ κW", "curve": "expected", "x": -2.05, "y": 6}, {"model": "κZ ≠ κW", "curve": "expected", "x": -1.89, "y": 5}, {"model": "κZ ≠ κW", "curve": "expected", "x": -1.75, "y": 4.22}, {"model": "κZ ≠ κW", "curve": "expected", "x": -1.67, "y": 3.84}, {"model": "κZ ≠ κW", "curve": "expected", "x": -1.51, "y": 3.0}, {"model": "κZ ≠ κW", "curve": "expected", "x": -1.28, "y": 2.0}, {"model": "κZ ≠ κW", "curve": "expected", "x": -0.95, "y": 1.0}, {"model": "κZ ≠ κW", "curve": "expected", "x": -0.72, "y": 0.6}, {"model": "κZ ≠ κW", "curve": "expected", "x": -0.52, "y": 0.33}, {"model": "κZ ≠ κW", "curve": "expected", "x": -0.33, "y": 0.13}, {"model": "κZ ≠ κW", "curve": "expected", "x": -0.17, "y": 0.03}, {"model": "κZ ≠ κW", "curve": "expected", "x": 0, "y": 0}, {"model": "κZ ≠ κW", "curve": "expected", "x": 0.18, "y": 0.03}, {"model": "κZ ≠ κW", "curve": "expected", "x": 0.37, "y": 0.13}, {"model": "κZ ≠ κW", "curve": "expected", "x": 0.61, "y": 0.38}, {"model": "κZ ≠ κW", "curve": "expected", "x": 0.88, "y": 1.0}, {"model": "κZ ≠ κW", "curve": "expected", "x": 1.07, "y": 1.47}, {"model": "κZ ≠ κW", "curve": "expected", "x": 1.24, "y": 2.0}, {"model": "κZ ≠ κW", "curve": "expected", "x": 1.49, "y": 3.0}, {"model": "κZ ≠ κW", "curve": "expected", "x": 1.65, "y": 3.84}, {"model": "κZ ≠ κW", "curve": "expected", "x": 1.75, "y": 4.3}, {"model": "κZ ≠ κW", "curve": "expected", "x": 1.85, "y": 5}, {"model": "κZ ≠ κW", "curve": "expected", "x": 2.0, "y": 6}, {"model": "κZ ≠ κW", "curve": "expected", "x": 2.14, "y": 7}, {"model": "κZ ≠ κW", "curve": "expected", "x": 2.31, "y": 8}, {"model": "κZ ≠ κW", "curve": "expected", "x": 2.48, "y": 9},
      {"model": "κZ = κW", "curve": "expected", "x": -2.5, "y": 9}, {"model": "κZ = κW", "curve": "expected", "x": -2.35, "y": 8}, {"model": "κZ = κW", "curve": "expected", "x": -2.21, "y": 7}, {"model": "κZ = κW", "curve": "expected", "x": -2.05, "y": 6}, {"model": "κZ = κW", "curve": "expected", "x": -1.89, "y": 5}, {"model": "κZ = κW", "curve": "expected", "x": -1.72, "y": 4.22}, {"model": "κZ = κW", "curve": "expected", "x": -1.64, "y": 3.84}, {"model": "κZ = κW", "curve": "expected", "x": -1.42, "y": 3.0}, {"model": "κZ = κW", "curve": "expected", "x": -1.18, "y": 2.17}, {"model": "κZ = κW", "curve": "expected", "x": -0.99, "y": 1.54}, {"model": "κZ = κW", "curve": "expected", "x": -0.79, "y": 1.0}, {"model": "κZ = κW", "curve": "expected", "x": -0.6, "y": 0.61}, {"model": "κZ = κW", "curve": "expected", "x": -0.4, "y": 0.32}, {"model": "κZ = κW", "curve": "expected", "x": -0.25, "y": 0.13}, {"model": "κZ = κW", "curve": "expected", "x": -0.09, "y": 0.02}, {"model": "κZ = κW", "curve": "expected", "x": 0.02, "y": 0}, {"model": "κZ = κW", "curve": "expected", "x": 0.18, "y": 0.02}, {"model": "κZ = κW", "curve": "expected", "x": 0.33, "y": 0.13}, {"model": "κZ = κW", "curve": "expected", "x": 0.53, "y": 0.38}, {"model": "κZ = κW", "curve": "expected", "x": 0.76, "y": 1.0}, {"model": "κZ = κW", "curve": "expected", "x": 1.0, "y": 1.63}, {"model": "κZ = κW", "curve": "expected", "x": 1.19, "y": 2.3}, {"model": "κZ = κW", "curve": "expected", "x": 1.39, "y": 3.04}, {"model": "κZ = κW", "curve": "expected", "x": 1.54, "y": 3.58}, {"model": "κZ = κW", "curve": "expected", "x": 1.62, "y": 3.84}, {"model": "κZ = κW", "curve": "expected", "x": 1.74, "y": 4.22}, {"model": "κZ = κW", "curve": "expected", "x": 1.85, "y": 5}, {"model": "κZ = κW", "curve": "expected", "x": 2.0, "y": 6}, {"model": "κZ = κW", "curve": "expected", "x": 2.14, "y": 7}, {"model": "κZ = κW", "curve": "expected", "x": 2.31, "y": 8}, {"model": "κZ = κW", "curve": "expected", "x": 2.49, "y": 9},
      {"model": "κZ ≠ κW", "curve": "observed", "x": -1.69, "y": 9}, {"model": "κZ ≠ κW", "curve": "observed", "x": -1.59, "y": 8}, {"model": "κZ ≠ κW", "curve": "observed", "x": -1.49, "y": 7}, {"model": "κZ ≠ κW", "curve": "observed", "x": -1.35, "y": 6}, {"model": "κZ ≠ κW", "curve": "observed", "x": -1.2, "y": 5}, {"model": "κZ ≠ κW", "curve": "observed", "x": -1.03, "y": 4.22}, {"model": "κZ ≠ κW", "curve": "observed", "x": -0.95, "y": 3.84}, {"model": "κZ ≠ κW", "curve": "observed", "x": -0.83, "y": 3.17}, {"model": "κZ ≠ κW", "curve": "observed", "x": -0.68, "y": 2.24}, {"model": "κZ ≠ κW", "curve": "observed", "x": -0.52, "y": 1.5}, {"model": "κZ ≠ κW", "curve": "observed", "x": -0.37, "y": 1.0}, {"model": "κZ ≠ κW", "curve": "observed", "x": -0.21, "y": 0.45}, {"model": "κZ ≠ κW", "curve": "observed", "x": -0.09, "y": 0.22}, {"model": "κZ ≠ κW", "curve": "observed", "x": -0.02, "y": 0.03}, {"model": "κZ ≠ κW", "curve": "observed", "x": 0, "y": 0}, {"model": "κZ ≠ κW", "curve": "observed", "x": 0.01, "y": 0.13}, {"model": "κZ ≠ κW", "curve": "observed", "x": 0.08, "y": 0.24}, {"model": "κZ ≠ κW", "curve": "observed", "x": 0.2, "y": 0.45}, {"model": "κZ ≠ κW", "curve": "observed", "x": 0.35, "y": 1.0}, {"model": "κZ ≠ κW", "curve": "observed", "x": 0.49, "y": 1.5}, {"model": "κZ ≠ κW", "curve": "observed", "x": 0.65, "y": 2.24}, {"model": "κZ ≠ κW", "curve": "observed", "x": 0.8, "y": 3.1}, {"model": "κZ ≠ κW", "curve": "observed", "x": 0.94, "y": 3.84}, {"model": "κZ ≠ κW", "curve": "observed", "x": 1.02, "y": 4.22}, {"model": "κZ ≠ κW", "curve": "observed", "x": 1.17, "y": 5}, {"model": "κZ ≠ κW", "curve": "observed", "x": 1.3, "y": 6}, {"model": "κZ ≠ κW", "curve": "observed", "x": 1.42, "y": 7}, {"model": "κZ ≠ κW", "curve": "observed", "x": 1.55, "y": 8}, {"model": "κZ ≠ κW", "curve": "observed", "x": 1.67, "y": 9},
      {"model": "κZ = κW", "curve": "observed", "x": -1.65, "y": 9}, {"model": "κZ = κW", "curve": "observed", "x": -1.54, "y": 8}, {"model": "κZ = κW", "curve": "observed", "x": -1.42, "y": 7}, {"model": "κZ = κW", "curve": "observed", "x": -1.27, "y": 6}, {"model": "κZ = κW", "curve": "observed", "x": -1.12, "y": 5}, {"model": "κZ = κW", "curve": "observed", "x": -0.91, "y": 4.22}, {"model": "κZ = κW", "curve": "observed", "x": -0.83, "y": 3.84}, {"model": "κZ = κW", "curve": "observed", "x": -0.72, "y": 3.29}, {"model": "κZ = κW", "curve": "observed", "x": -0.6, "y": 2.81}, {"model": "κZ = κW", "curve": "observed", "x": -0.5, "y": 2.4}, {"model": "κZ = κW", "curve": "observed", "x": -0.44, "y": 1.98}, {"model": "κZ = κW", "curve": "observed", "x": -0.37, "y": 1.5}, {"model": "κZ = κW", "curve": "observed", "x": -0.29, "y": 1.0}, {"model": "κZ = κW", "curve": "observed", "x": -0.21, "y": 0.45}, {"model": "κZ = κW", "curve": "observed", "x": -0.13, "y": 0.1}, {"model": "κZ = κW", "curve": "observed", "x": -0.02, "y": 0}, {"model": "κZ = κW", "curve": "observed", "x": 0.02, "y": 0}, {"model": "κZ = κW", "curve": "observed", "x": 0.1, "y": 0.1}, {"model": "κZ = κW", "curve": "observed", "x": 0.18, "y": 0.45}, {"model": "κZ = κW", "curve": "observed", "x": 0.3, "y": 1.0}, {"model": "κZ = κW", "curve": "observed", "x": 0.39, "y": 1.66}, {"model": "κZ = κW", "curve": "observed", "x": 0.49, "y": 2.43}, {"model": "κZ = κW", "curve": "observed", "x": 0.61, "y": 2.78}, {"model": "κZ = κW", "curve": "observed", "x": 0.72, "y": 3.29}, {"model": "κZ = κW", "curve": "observed", "x": 0.84, "y": 3.84}, {"model": "κZ = κW", "curve": "observed", "x": 0.92, "y": 4.22}, {"model": "κZ = κW", "curve": "observed", "x": 1.1, "y": 5}, {"model": "κZ = κW", "curve": "observed", "x": 1.25, "y": 6}, {"model": "κZ = κW", "curve": "observed", "x": 1.38, "y": 7}, {"model": "κZ = κW", "curve": "observed", "x": 1.52, "y": 8}, {"model": "κZ = κW", "curve": "observed", "x": 1.65, "y": 9}
    ],
    "levels": [{"cl": "95% CL", "v": 3.84}, {"cl": "68% CL", "v": 1}],
    "lumi": [{"text": "138 fb⁻¹ (13 TeV)"}],
    "cms": [{"text": "CMS"}],
    "note": [{"text": "H → 4ℓ"}]
  },
  "columns": 2,
  "spacing": {"row": 198, "column": 129},
  "bounds": "flush",
  "resolve": {"scale": {"color": "independent", "strokeDash": "independent"}, "legend": {"color": "independent"}},
  "concat": [
    {
      "width": 990, "height": 940,
      "resolve": {"axis": {"x": "independent", "y": "independent"}},
      "layer": [
        {
          "data": {"name": "kt"},
          "mark": {"type": "line", "strokeWidth": 3.5, "clip": true},
          "encoding": {
            "x": {"field": "x", "type": "quantitative", "scale": {"domain": [-10, 10], "nice": false, "zero": false},
                  "axis": {"orient": "bottom", "values": [-10, -5, 0, 5, 10], "tickSize": -19, "labelPadding": 34, "title": "κt", "labelExpr": "datum.value + ''"}},
            "y": {"field": "y", "type": "quantitative", "scale": {"domain": [0, 9], "nice": false},
                  "axis": {"orient": "left", "values": [0, 1, 2, 3, 4, 5, 6, 7, 8, 9], "tickSize": -20, "labelPadding": 35, "title": "−2 Δln L", "labelExpr": "datum.value + ''"}},
            "color": {"field": "model", "type": "nominal", "scale": {"domain": ["κZ = κW", "κZ ≠ κW"], "range": ["#ff0000", "#000000"]},
                      "legend": {"title": null, "orient": "none", "legendX": 37, "legendY": 740}},
            "strokeDash": {"field": "curve", "type": "nominal", "scale": {"domain": ["observed", "expected"], "range": [[1, 0], [10, 6]]}, "legend": null}
          }
        },
        {
          "data": {"name": "levels"},
          "mark": {"type": "rule", "strokeDash": [25, 15], "strokeWidth": 2, "color": "#000000"},
          "encoding": {
            "y": {"field": "v", "type": "quantitative", "scale": {"domain": [0, 9], "nice": false},
                  "axis": {"orient": "left", "values": [0.2, 0.4, 0.6, 0.8, 1.2, 1.4, 1.6, 1.8, 2.2, 2.4, 2.6, 2.8, 3.2, 3.4, 3.6, 3.8, 4.2, 4.4, 4.6, 4.8, 5.2, 5.4, 5.6, 5.8, 6.2, 6.4, 6.6, 6.8, 7.2, 7.4, 7.6, 7.8, 8.2, 8.4, 8.6, 8.8], "tickSize": -10, "labels": false, "title": null}}
          }
        },
        {
          "data": {"name": "levels"},
          "mark": {"type": "text", "align": "right", "baseline": "alphabetic", "dy": -11, "fontSize": 40},
          "encoding": {
            "x": {"datum": 8.96, "type": "quantitative", "scale": {"domain": [-10, 10], "nice": false, "zero": false},
                  "axis": {"orient": "bottom", "values": [-9, -8, -7, -6, -4, -3, -2, -1, 1, 2, 3, 4, 6, 7, 8, 9], "tickSize": -10, "labels": false, "title": null}},
            "y": {"field": "v", "type": "quantitative", "scale": {"domain": [0, 9], "nice": false},
                  "axis": {"orient": "right", "values": [0, 1, 2, 3, 4, 5, 6, 7, 8, 9], "tickSize": -20, "labels": false, "title": null}},
            "text": {"field": "cl"}
          }
        },
        {
          "data": {"name": "note"},
          "mark": {"type": "text", "text": ["H → 4ℓ", "on- & off-shell"], "align": "left", "baseline": "alphabetic", "fontSize": 40, "lineHeight": 45},
          "encoding": {
            "x": {"datum": -9.56, "type": "quantitative", "scale": {"domain": [-10, 10], "nice": false, "zero": false},
                  "axis": {"orient": "top", "values": [-10, -5, 0, 5, 10], "tickSize": -19, "labels": false, "title": null}},
            "y": {"datum": 2.68, "type": "quantitative", "scale": {"domain": [0, 9], "nice": false},
                  "axis": {"orient": "right", "values": [0.2, 0.4, 0.6, 0.8, 1.2, 1.4, 1.6, 1.8, 2.2, 2.4, 2.6, 2.8, 3.2, 3.4, 3.6, 3.8, 4.2, 4.4, 4.6, 4.8, 5.2, 5.4, 5.6, 5.8, 6.2, 6.4, 6.6, 6.8, 7.2, 7.4, 7.6, 7.8, 8.2, 8.4, 8.6, 8.8], "tickSize": -10, "labels": false, "title": null}}
          }
        },
        {
          "data": {"name": "lumi"},
          "mark": {"type": "text", "align": "right", "baseline": "alphabetic", "dy": -15, "dx": -3, "fontSize": 46},
          "encoding": {
            "x": {"datum": 10, "type": "quantitative", "scale": {"domain": [-10, 10], "nice": false, "zero": false},
                  "axis": {"orient": "top", "values": [-9, -8, -7, -6, -4, -3, -2, -1, 1, 2, 3, 4, 6, 7, 8, 9], "tickSize": -10, "labels": false, "title": null}},
            "y": {"datum": 9, "type": "quantitative", "scale": {"domain": [0, 9], "nice": false}, "axis": null},
            "text": {"field": "text"}
          }
        },
        {
          "data": {"name": "cms"},
          "mark": {"type": "text", "align": "left", "baseline": "alphabetic", "dy": -12, "dx": 1, "fontSize": 60, "fontWeight": "bold"},
          "encoding": {
            "x": {"datum": -10, "type": "quantitative", "scale": {"domain": [-10, 10], "nice": false, "zero": false}, "axis": null},
            "y": {"datum": 9, "type": "quantitative", "scale": {"domain": [0, 9], "nice": false}, "axis": null},
            "text": {"field": "text"}
          }
        }
      ]
    },
    {
      "width": 1019, "height": 940,
      "resolve": {"axis": {"x": "independent", "y": "independent"}},
      "layer": [
        {
          "data": {"name": "kq"},
          "mark": {"type": "line", "strokeWidth": 3.5, "clip": true},
          "encoding": {
            "x": {"field": "x", "type": "quantitative", "scale": {"domain": [-5, 5], "nice": false, "zero": false},
                  "axis": {"orient": "bottom", "values": [-4, -2, 0, 2, 4], "tickSize": -19, "labelPadding": 34, "title": "κQ", "labelExpr": "datum.value + ''"}},
            "y": {"field": "y", "type": "quantitative", "scale": {"domain": [0, 9], "nice": false},
                  "axis": {"orient": "left", "values": [0, 1, 2, 3, 4, 5, 6, 7, 8, 9], "tickSize": -20, "labelPadding": 35, "title": "−2 Δln L", "labelExpr": "datum.value + ''"}},
            "color": {"field": "model", "type": "nominal", "scale": {"domain": ["κZ = κW", "κZ ≠ κW"], "range": ["#ff0000", "#000000"]},
                      "legend": {"title": null, "orient": "none", "legendX": 37, "legendY": 740}},
            "strokeDash": {"field": "curve", "type": "nominal", "scale": {"domain": ["observed", "expected"], "range": [[1, 0], [10, 6]]}, "legend": null}
          }
        },
        {
          "data": {"name": "levels"},
          "mark": {"type": "rule", "strokeDash": [25, 15], "strokeWidth": 2, "color": "#000000"},
          "encoding": {
            "y": {"field": "v", "type": "quantitative", "scale": {"domain": [0, 9], "nice": false},
                  "axis": {"orient": "left", "values": [0.2, 0.4, 0.6, 0.8, 1.2, 1.4, 1.6, 1.8, 2.2, 2.4, 2.6, 2.8, 3.2, 3.4, 3.6, 3.8, 4.2, 4.4, 4.6, 4.8, 5.2, 5.4, 5.6, 5.8, 6.2, 6.4, 6.6, 6.8, 7.2, 7.4, 7.6, 7.8, 8.2, 8.4, 8.6, 8.8], "tickSize": -10, "labels": false, "title": null}}
          }
        },
        {
          "data": {"name": "levels"},
          "mark": {"type": "text", "align": "right", "baseline": "alphabetic", "dy": -11, "fontSize": 40},
          "encoding": {
            "x": {"datum": 4.48, "type": "quantitative", "scale": {"domain": [-5, 5], "nice": false, "zero": false},
                  "axis": {"orient": "bottom", "values": [-4.5, -3.5, -3, -2.5, -1.5, -1, -0.5, 0.5, 1, 1.5, 2.5, 3, 3.5, 4.5], "tickSize": -10, "labels": false, "title": null}},
            "y": {"field": "v", "type": "quantitative", "scale": {"domain": [0, 9], "nice": false},
                  "axis": {"orient": "right", "values": [0, 1, 2, 3, 4, 5, 6, 7, 8, 9], "tickSize": -20, "labels": false, "title": null}},
            "text": {"field": "cl"}
          }
        },
        {
          "data": {"name": "note"},
          "mark": {"type": "text", "text": ["H → 4ℓ", "on- & off-shell"], "align": "left", "baseline": "alphabetic", "fontSize": 40, "lineHeight": 45},
          "encoding": {
            "x": {"datum": -4.78, "type": "quantitative", "scale": {"domain": [-5, 5], "nice": false, "zero": false},
                  "axis": {"orient": "top", "values": [-4, -2, 0, 2, 4], "tickSize": -19, "labels": false, "title": null}},
            "y": {"datum": 2.68, "type": "quantitative", "scale": {"domain": [0, 9], "nice": false},
                  "axis": {"orient": "right", "values": [0.2, 0.4, 0.6, 0.8, 1.2, 1.4, 1.6, 1.8, 2.2, 2.4, 2.6, 2.8, 3.2, 3.4, 3.6, 3.8, 4.2, 4.4, 4.6, 4.8, 5.2, 5.4, 5.6, 5.8, 6.2, 6.4, 6.6, 6.8, 7.2, 7.4, 7.6, 7.8, 8.2, 8.4, 8.6, 8.8], "tickSize": -10, "labels": false, "title": null}}
          }
        },
        {
          "data": {"name": "lumi"},
          "mark": {"type": "text", "align": "right", "baseline": "alphabetic", "dy": -15, "dx": -3, "fontSize": 46},
          "encoding": {
            "x": {"datum": 5, "type": "quantitative", "scale": {"domain": [-5, 5], "nice": false, "zero": false},
                  "axis": {"orient": "top", "values": [-4.5, -3.5, -3, -2.5, -1.5, -1, -0.5, 0.5, 1, 1.5, 2.5, 3, 3.5, 4.5], "tickSize": -10, "labels": false, "title": null}},
            "y": {"datum": 9, "type": "quantitative", "scale": {"domain": [0, 9], "nice": false}, "axis": null},
            "text": {"field": "text"}
          }
        },
        {
          "data": {"name": "cms"},
          "mark": {"type": "text", "align": "left", "baseline": "alphabetic", "dy": -12, "dx": 1, "fontSize": 60, "fontWeight": "bold"},
          "encoding": {
            "x": {"datum": -5, "type": "quantitative", "scale": {"domain": [-5, 5], "nice": false, "zero": false}, "axis": null},
            "y": {"datum": 9, "type": "quantitative", "scale": {"domain": [0, 9], "nice": false}, "axis": null},
            "text": {"field": "text"}
          }
        }
      ]
    },
    {
      "width": 1017, "height": 940,
      "resolve": {"axis": {"x": "independent", "y": "independent"}},
      "layer": [
        {
          "data": {"name": "ktt"},
          "mark": {"type": "line", "strokeWidth": 3.5, "clip": true},
          "encoding": {
            "x": {"field": "x", "type": "quantitative", "scale": {"domain": [-5, 5], "nice": false, "zero": false},
                  "axis": {"orient": "bottom", "values": [-4, -2, 0, 2, 4], "tickSize": -19, "labelPadding": 34, "title": "\u03ba\u0303t", "titleFont": "DejaVu Sans", "labelExpr": "datum.value + ''"}},
            "y": {"field": "y", "type": "quantitative", "scale": {"domain": [0, 9], "nice": false},
                  "axis": {"orient": "left", "values": [0, 1, 2, 3, 4, 5, 6, 7, 8, 9], "tickSize": -20, "labelPadding": 35, "title": "−2 Δln L", "labelExpr": "datum.value + ''"}},
            "color": {"field": "model", "type": "nominal", "scale": {"domain": ["κZ = κW", "κZ ≠ κW"], "range": ["#ff0000", "#000000"]},
                      "legend": {"title": null, "orient": "none", "legendX": 37, "legendY": 740}},
            "strokeDash": {"field": "curve", "type": "nominal", "scale": {"domain": ["observed", "expected"], "range": [[1, 0], [10, 6]]}, "legend": null}
          }
        },
        {
          "data": {"name": "levels"},
          "mark": {"type": "rule", "strokeDash": [25, 15], "strokeWidth": 2, "color": "#000000"},
          "encoding": {
            "y": {"field": "v", "type": "quantitative", "scale": {"domain": [0, 9], "nice": false},
                  "axis": {"orient": "left", "values": [0.2, 0.4, 0.6, 0.8, 1.2, 1.4, 1.6, 1.8, 2.2, 2.4, 2.6, 2.8, 3.2, 3.4, 3.6, 3.8, 4.2, 4.4, 4.6, 4.8, 5.2, 5.4, 5.6, 5.8, 6.2, 6.4, 6.6, 6.8, 7.2, 7.4, 7.6, 7.8, 8.2, 8.4, 8.6, 8.8], "tickSize": -10, "labels": false, "title": null}}
          }
        },
        {
          "data": {"name": "levels"},
          "mark": {"type": "text", "align": "right", "baseline": "alphabetic", "dy": -11, "fontSize": 40},
          "encoding": {
            "x": {"datum": 4.5, "type": "quantitative", "scale": {"domain": [-5, 5], "nice": false, "zero": false},
                  "axis": {"orient": "bottom", "values": [-4.5, -3.5, -3, -2.5, -1.5, -1, -0.5, 0.5, 1, 1.5, 2.5, 3, 3.5, 4.5], "tickSize": -10, "labels": false, "title": null}},
            "y": {"field": "v", "type": "quantitative", "scale": {"domain": [0, 9], "nice": false},
                  "axis": {"orient": "right", "values": [0, 1, 2, 3, 4, 5, 6, 7, 8, 9], "tickSize": -20, "labels": false, "title": null}},
            "text": {"field": "cl"}
          }
        },
        {
          "data": {"name": "note"},
          "mark": {"type": "text", "text": ["H → 4ℓ", "on- & off-shell"], "align": "left", "baseline": "alphabetic", "fontSize": 40, "lineHeight": 45},
          "encoding": {
            "x": {"datum": -4.78, "type": "quantitative", "scale": {"domain": [-5, 5], "nice": false, "zero": false},
                  "axis": {"orient": "top", "values": [-4, -2, 0, 2, 4], "tickSize": -19, "labels": false, "title": null}},
            "y": {"datum": 2.68, "type": "quantitative", "scale": {"domain": [0, 9], "nice": false},
                  "axis": {"orient": "right", "values": [0.2, 0.4, 0.6, 0.8, 1.2, 1.4, 1.6, 1.8, 2.2, 2.4, 2.6, 2.8, 3.2, 3.4, 3.6, 3.8, 4.2, 4.4, 4.6, 4.8, 5.2, 5.4, 5.6, 5.8, 6.2, 6.4, 6.6, 6.8, 7.2, 7.4, 7.6, 7.8, 8.2, 8.4, 8.6, 8.8], "tickSize": -10, "labels": false, "title": null}}
          }
        },
        {
          "data": {"name": "lumi"},
          "mark": {"type": "text", "align": "right", "baseline": "alphabetic", "dy": -15, "dx": -3, "fontSize": 46},
          "encoding": {
            "x": {"datum": 5, "type": "quantitative", "scale": {"domain": [-5, 5], "nice": false, "zero": false},
                  "axis": {"orient": "top", "values": [-4.5, -3.5, -3, -2.5, -1.5, -1, -0.5, 0.5, 1, 1.5, 2.5, 3, 3.5, 4.5], "tickSize": -10, "labels": false, "title": null}},
            "y": {"datum": 9, "type": "quantitative", "scale": {"domain": [0, 9], "nice": false}, "axis": null},
            "text": {"field": "text"}
          }
        },
        {
          "data": {"name": "cms"},
          "mark": {"type": "text", "align": "left", "baseline": "alphabetic", "dy": -12, "dx": 1, "fontSize": 60, "fontWeight": "bold"},
          "encoding": {
            "x": {"datum": -5, "type": "quantitative", "scale": {"domain": [-5, 5], "nice": false, "zero": false}, "axis": null},
            "y": {"datum": 9, "type": "quantitative", "scale": {"domain": [0, 9], "nice": false}, "axis": null},
            "text": {"field": "text"}
          }
        }
      ]
    },
    {
      "width": 1019, "height": 940,
      "resolve": {"axis": {"x": "independent", "y": "independent"}},
      "layer": [
        {
          "data": {"name": "kqt"},
          "mark": {"type": "line", "strokeWidth": 3.5, "clip": true},
          "encoding": {
            "x": {"field": "x", "type": "quantitative", "scale": {"domain": [-5, 5], "nice": false, "zero": false},
                  "axis": {"orient": "bottom", "values": [-4, -2, 0, 2, 4], "tickSize": -19, "labelPadding": 34, "title": "\u03ba\u0303Q", "titleFont": "DejaVu Sans", "labelExpr": "datum.value + ''"}},
            "y": {"field": "y", "type": "quantitative", "scale": {"domain": [0, 9], "nice": false},
                  "axis": {"orient": "left", "values": [0, 1, 2, 3, 4, 5, 6, 7, 8, 9], "tickSize": -20, "labelPadding": 35, "title": "−2 Δln L", "labelExpr": "datum.value + ''"}},
            "color": {"field": "model", "type": "nominal", "scale": {"domain": ["κZ = κW", "κZ ≠ κW"], "range": ["#ff0000", "#000000"]},
                      "legend": {"title": null, "orient": "none", "legendX": 37, "legendY": 740}},
            "strokeDash": {"field": "curve", "type": "nominal", "scale": {"domain": ["observed", "expected"], "range": [[1, 0], [10, 6]]}, "legend": null}
          }
        },
        {
          "data": {"name": "levels"},
          "mark": {"type": "rule", "strokeDash": [25, 15], "strokeWidth": 2, "color": "#000000"},
          "encoding": {
            "y": {"field": "v", "type": "quantitative", "scale": {"domain": [0, 9], "nice": false},
                  "axis": {"orient": "left", "values": [0.2, 0.4, 0.6, 0.8, 1.2, 1.4, 1.6, 1.8, 2.2, 2.4, 2.6, 2.8, 3.2, 3.4, 3.6, 3.8, 4.2, 4.4, 4.6, 4.8, 5.2, 5.4, 5.6, 5.8, 6.2, 6.4, 6.6, 6.8, 7.2, 7.4, 7.6, 7.8, 8.2, 8.4, 8.6, 8.8], "tickSize": -10, "labels": false, "title": null}}
          }
        },
        {
          "data": {"name": "levels"},
          "mark": {"type": "text", "align": "right", "baseline": "alphabetic", "dy": -11, "fontSize": 40},
          "encoding": {
            "x": {"datum": 4.48, "type": "quantitative", "scale": {"domain": [-5, 5], "nice": false, "zero": false},
                  "axis": {"orient": "bottom", "values": [-4.5, -3.5, -3, -2.5, -1.5, -1, -0.5, 0.5, 1, 1.5, 2.5, 3, 3.5, 4.5], "tickSize": -10, "labels": false, "title": null}},
            "y": {"field": "v", "type": "quantitative", "scale": {"domain": [0, 9], "nice": false},
                  "axis": {"orient": "right", "values": [0, 1, 2, 3, 4, 5, 6, 7, 8, 9], "tickSize": -20, "labels": false, "title": null}},
            "text": {"field": "cl"}
          }
        },
        {
          "data": {"name": "note"},
          "mark": {"type": "text", "text": ["H → 4ℓ", "on- & off-shell"], "align": "left", "baseline": "alphabetic", "fontSize": 40, "lineHeight": 45},
          "encoding": {
            "x": {"datum": -4.78, "type": "quantitative", "scale": {"domain": [-5, 5], "nice": false, "zero": false},
                  "axis": {"orient": "top", "values": [-4, -2, 0, 2, 4], "tickSize": -19, "labels": false, "title": null}},
            "y": {"datum": 2.68, "type": "quantitative", "scale": {"domain": [0, 9], "nice": false},
                  "axis": {"orient": "right", "values": [0.2, 0.4, 0.6, 0.8, 1.2, 1.4, 1.6, 1.8, 2.2, 2.4, 2.6, 2.8, 3.2, 3.4, 3.6, 3.8, 4.2, 4.4, 4.6, 4.8, 5.2, 5.4, 5.6, 5.8, 6.2, 6.4, 6.6, 6.8, 7.2, 7.4, 7.6, 7.8, 8.2, 8.4, 8.6, 8.8], "tickSize": -10, "labels": false, "title": null}}
          }
        },
        {
          "data": {"name": "lumi"},
          "mark": {"type": "text", "align": "right", "baseline": "alphabetic", "dy": -15, "dx": -3, "fontSize": 46},
          "encoding": {
            "x": {"datum": 5, "type": "quantitative", "scale": {"domain": [-5, 5], "nice": false, "zero": false},
                  "axis": {"orient": "top", "values": [-4.5, -3.5, -3, -2.5, -1.5, -1, -0.5, 0.5, 1, 1.5, 2.5, 3, 3.5, 4.5], "tickSize": -10, "labels": false, "title": null}},
            "y": {"datum": 9, "type": "quantitative", "scale": {"domain": [0, 9], "nice": false}, "axis": null},
            "text": {"field": "text"}
          }
        },
        {
          "data": {"name": "cms"},
          "mark": {"type": "text", "align": "left", "baseline": "alphabetic", "dy": -12, "dx": 1, "fontSize": 60, "fontWeight": "bold"},
          "encoding": {
            "x": {"datum": -5, "type": "quantitative", "scale": {"domain": [-5, 5], "nice": false, "zero": false}, "axis": null},
            "y": {"datum": 9, "type": "quantitative", "scale": {"domain": [0, 9], "nice": false}, "axis": null},
            "text": {"field": "text"}
          }
        }
      ]
    }
  ]
}
